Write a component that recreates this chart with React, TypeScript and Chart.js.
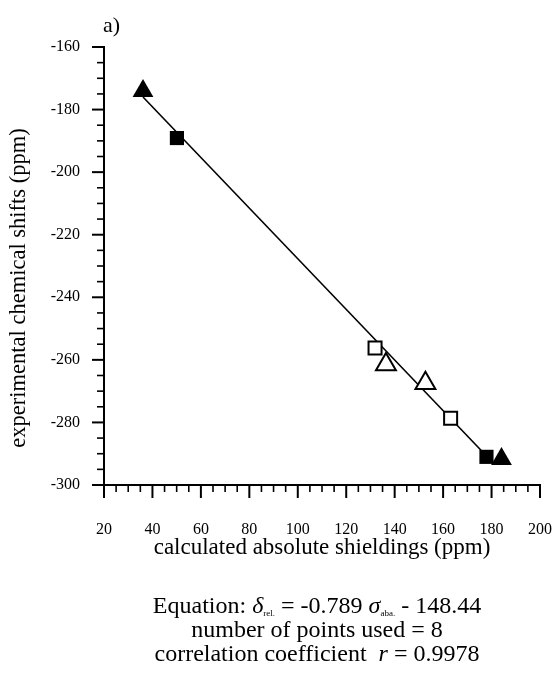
import React, { useEffect, useRef } from "react";
import { Chart, registerables } from "chart.js";

Chart.register(...registerables);

const FONT = "'Liberation Serif', 'Times New Roman', serif";

// Values
const filledSquareX = [50.1, 177.9];
const filledSquareY = [-189.1, -291.0];
const openSquareX = [131.9, 163.1];
const openSquareY = [-256.2, -278.7];
const filledTriangleX = [36.1, 184.1];
const filledTriangleY = [-174.1, -291.7];
const openTriangleX = [136.4, 152.7];
const openTriangleY = [-261.5, -267.5];
const fitLineX = [36.1, 180];
const fitLineY = [-176.0, -292.4];

const xMin = 20;
const xMax = 200;
const xMajorStep = 20;
const yMin = -300;
const yMax = -160;
const yMajorStep = 20;
const minorStep = 5;

const xTitle = "calculated absolute shieldings (ppm)";
const yTitle = "experimental chemical shifts (ppm)";
const panelLabel = "a)";

const pts = (xs: number[], ys: number[]) => xs.map((x, i) => ({ x, y: ys[i] }));

const axisDecor = {
  id: "axisDecor",
  afterDraw(chart: any) {
    const { ctx, chartArea } = chart;
    const xs = chart.scales.x;
    const ys = chart.scales.y;
    ctx.save();
    ctx.strokeStyle = "#000";
    for (let v = xMin; v <= xMax + 1e-9; v += minorStep) {
      const major = Math.abs((v - xMin) % xMajorStep) < 1e-9;
      const px = xs.getPixelForValue(v);
      ctx.lineWidth = major ? 2 : 1.6;
      ctx.beginPath();
      ctx.moveTo(px, chartArea.bottom);
      ctx.lineTo(px, chartArea.bottom + (major ? 13 : 7));
      ctx.stroke();
    }
    for (let v = yMin; v <= yMax + 1e-9; v += minorStep) {
      const major = Math.abs((v - yMin) % yMajorStep) < 1e-9;
      const py = ys.getPixelForValue(v);
      ctx.lineWidth = major ? 2 : 1.6;
      ctx.beginPath();
      ctx.moveTo(chartArea.left, py);
      ctx.lineTo(chartArea.left - (major ? 12 : 7), py);
      ctx.stroke();
    }
    ctx.fillStyle = "#000";
    ctx.font = `22px ${FONT}`;
    ctx.textAlign = "left";
    ctx.textBaseline = "alphabetic";
    ctx.fillText(panelLabel, 103, 32);

    ctx.font = `22.5px ${FONT}`;
    ctx.translate(25, 288);
    ctx.rotate(-Math.PI / 2);
    ctx.textAlign = "center";
    ctx.fillText(yTitle, 0, 0);
    ctx.restore();
  },
};

export default function App() {
  const ref = useRef<HTMLCanvasElement | null>(null);

  useEffect(() => {
    if (!ref.current) return;
    const chart = new Chart(ref.current, {
      type: "scatter",
      data: {
        datasets: [
          {
            label: "filled squares",
            data: pts(filledSquareX, filledSquareY),
            pointStyle: "rect",
            pointRadius: 10,
            backgroundColor: "#000",
            borderColor: "#000",
            borderWidth: 0,
          },
          {
            label: "open squares",
            data: pts(openSquareX, openSquareY),
            pointStyle: "rect",
            pointRadius: 9.2,
            backgroundColor: "#fff",
            borderColor: "#000",
            borderWidth: 2,
          },
          {
            label: "filled triangles",
            data: pts(filledTriangleX, filledTriangleY),
            pointStyle: "triangle",
            pointRadius: 12,
            backgroundColor: "#000",
            borderColor: "#000",
            borderWidth: 0,
          },
          {
            label: "open triangles",
            data: pts(openTriangleX, openTriangleY),
            pointStyle: "triangle",
            pointRadius: 11.5,
            backgroundColor: "#fff",
            borderColor: "#000",
            borderWidth: 2,
          },
          {
            type: "line",
            label: "fit",
            data: pts(fitLineX, fitLineY),
            showLine: true,
            borderColor: "#000",
            borderWidth: 1.6,
            pointRadius: 0,
            fill: false,
          } as any,
        ],
      },
      options: {
        animation: false,
        responsive: false,
        devicePixelRatio: 1,
        events: [],
        layout: { padding: { top: 47, left: 0, right: 15, bottom: 100 } },
        plugins: {
          legend: { display: false },
          tooltip: { enabled: false },
        },
        scales: {
          x: {
            type: "linear",
            min: xMin,
            max: xMax,
            grid: { display: false, drawTicks: true, tickLength: 35 },
            border: { display: true, color: "#000", width: 2 },
            ticks: {
              stepSize: xMajorStep,
              color: "#000",
              font: { family: FONT, size: 16 },
              padding: 0,
              maxRotation: 0,
            },
            title: {
              display: true,
              text: xTitle,
              color: "#000",
              font: { family: FONT, size: 23 },
              padding: { top: 0, bottom: 11 },
            },
            afterFit: (s: any) => {
              s.height = 88;
            },
          },
          y: {
            type: "linear",
            min: yMin,
            max: yMax,
            grid: { display: false, drawTicks: true, tickLength: 24 },
            border: { display: true, color: "#000", width: 2 },
            ticks: {
              stepSize: yMajorStep,
              color: "#000",
              font: { family: FONT, size: 16 },
              padding: 0,
            },
            afterFit: (s: any) => {
              s.width = 104;
            },
          },
        },
      },
      plugins: [axisDecor],
    });
    return () => chart.destroy();
  }, []);

  const lineStyle: React.CSSProperties = {
    position: "absolute",
    left: 0,
    width: 634,
    textAlign: "center",
    fontFamily: FONT,
    fontSize: 24,
    lineHeight: "24px",
    color: "#000",
    whiteSpace: "pre",
  };
  const sub: React.CSSProperties = { fontSize: 9, verticalAlign: "-3px" };

  return (
    <div style={{ position: "absolute", left: 0, top: 0, width: 555, height: 673, background: "#fff" }}>
      <canvas ref={ref} width={555} height={673} style={{ display: "block", width: 555, height: 673 }} />
      <div style={{ ...lineStyle, top: 593 }}>
        Equation: <i>δ</i>
        <span style={sub}>rel.</span> = -0.789 <i>σ</i>
        <span style={sub}>aba.</span> - 148.44
      </div>
      <div style={{ ...lineStyle, top: 617 }}>number of points used = 8</div>
      <div style={{ ...lineStyle, top: 641 }}>
        correlation coefficient  <i>r</i> = 0.9978
      </div>
    </div>
  );
}
